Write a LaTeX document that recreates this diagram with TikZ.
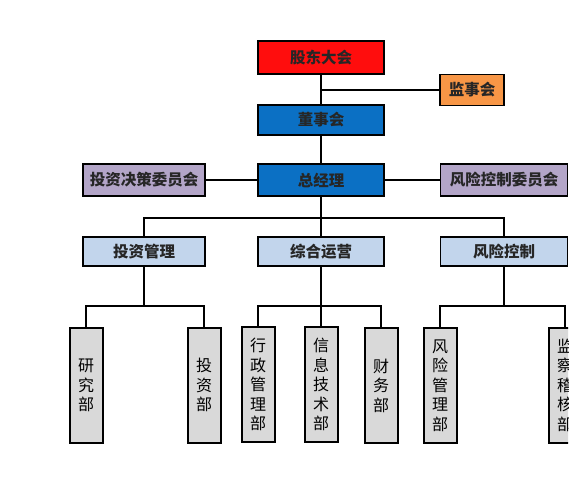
\documentclass[tikz,border=0pt]{standalone}
\usepackage{fontspec}
\newfontfamily\cjk{Noto Sans CJK SC}
\usepackage{xcolor}
\usetikzlibrary{positioning}

\definecolor{boxred}{HTML}{FF0D0D}
\definecolor{boxorange}{HTML}{F79646}
\definecolor{boxblue}{HTML}{0B70C4}
\definecolor{boxlilac}{HTML}{B3A5C8}
\definecolor{boxpale}{HTML}{C2D5EC}
\definecolor{boxgray}{HTML}{D9D9D9}

\begin{document}
\begin{tikzpicture}[
  x=1pt, y=-1pt,
  every node/.style={draw=black, line width=1.6pt, inner sep=0pt,
    font=\cjk\bfseries\fontsize{15.5}{19.5}\selectfont, text=black!85},
  topbox/.style={minimum width=126pt, minimum height=31pt},
  dept/.style={fill=boxgray, minimum width=33pt, minimum height=115pt,
    align=center, line width=2pt, text=black,
    font=\cjk\fontsize{16}{19.5}\selectfont},
  conn/.style={line width=1.3pt}
]
\useasboundingbox[fill=white] (0,0) rectangle (584,490);

% top levels
\node[topbox, fill=boxred, minimum height=33pt] (gd) at (321,57.5) {股东大会};
\node[fill=boxorange, minimum width=64pt, minimum height=31pt] (jsh) at (472,90) {监事会};
\node[topbox, fill=boxblue, minimum height=30pt] (ds) at (321,120) {董事会};
\node[topbox, fill=boxblue, minimum height=32pt] (zjl) at (321,180) {总经理};
\node[topbox, fill=boxlilac, minimum width=122pt, minimum height=32pt] (tzjc) at (144,180) {投资决策委员会};
\node[topbox, fill=boxlilac, minimum width=127pt, minimum height=32pt] (fxw) at (504,180) {风险控制委员会};

% middle level
\node[topbox, fill=boxpale, minimum width=122pt, minimum height=29pt] (tzgl) at (144,251.5) {投资管理};
\node[topbox, fill=boxpale, minimum height=29pt] (zhyy) at (321,251.5) {综合运营};
\node[topbox, fill=boxpale, minimum width=127pt, minimum height=29pt] (fxkz) at (504,251.5) {风险控制};

% departments
\node[dept] (yjb) at (86,385.5) {研\\究\\部};
\node[dept] (tzb) at (204,385) {投\\资\\部};
\node[dept] (xzgl) at (258,384.5) {行\\政\\管\\理\\部};
\node[dept] (xxjs) at (321,384.5) {信\\息\\技\\术\\部};
\node[dept] (cwb) at (381,385.5) {财\\务\\部};
\node[dept] (fxgl) at (440,385.5) {风\\险\\管\\理\\部};

\coordinate (b1) at (0,218);
\coordinate (b2) at (0,306);

\draw[conn] (gd) -- (ds);
\draw[conn] (jsh.west) -- (jsh.west -| gd.south);
\draw[conn] (ds) -- (zjl);
\draw[conn] (tzjc) -- (zjl);
\draw[conn] (zjl) -- (fxw);
\draw[conn] (zjl) -- (zhyy);
\draw[conn] (tzgl.north) |- (b1 -| zjl) -| (fxkz.north);

\draw[conn] (tzgl) -- (b2 -| tzgl);
\draw[conn] (yjb.north) |- (b2 -| tzgl) -| (tzb.north);
\draw[conn] (zhyy) -- (xxjs);
\draw[conn] (xzgl.north) |- (b2 -| zhyy) -| (cwb.north);
\draw[conn] (fxkz) -- (b2 -| fxkz);

% right edge is cut off
\begin{scope}
  \clip (0,0) rectangle (568,490);
  \node[dept] (jcjh) at (565,385) {监\\察\\稽\\核\\部};
  \draw[conn] (fxgl.north) |- (b2 -| fxkz) -| (jcjh.north);
\end{scope}
\end{tikzpicture}
\end{document}
